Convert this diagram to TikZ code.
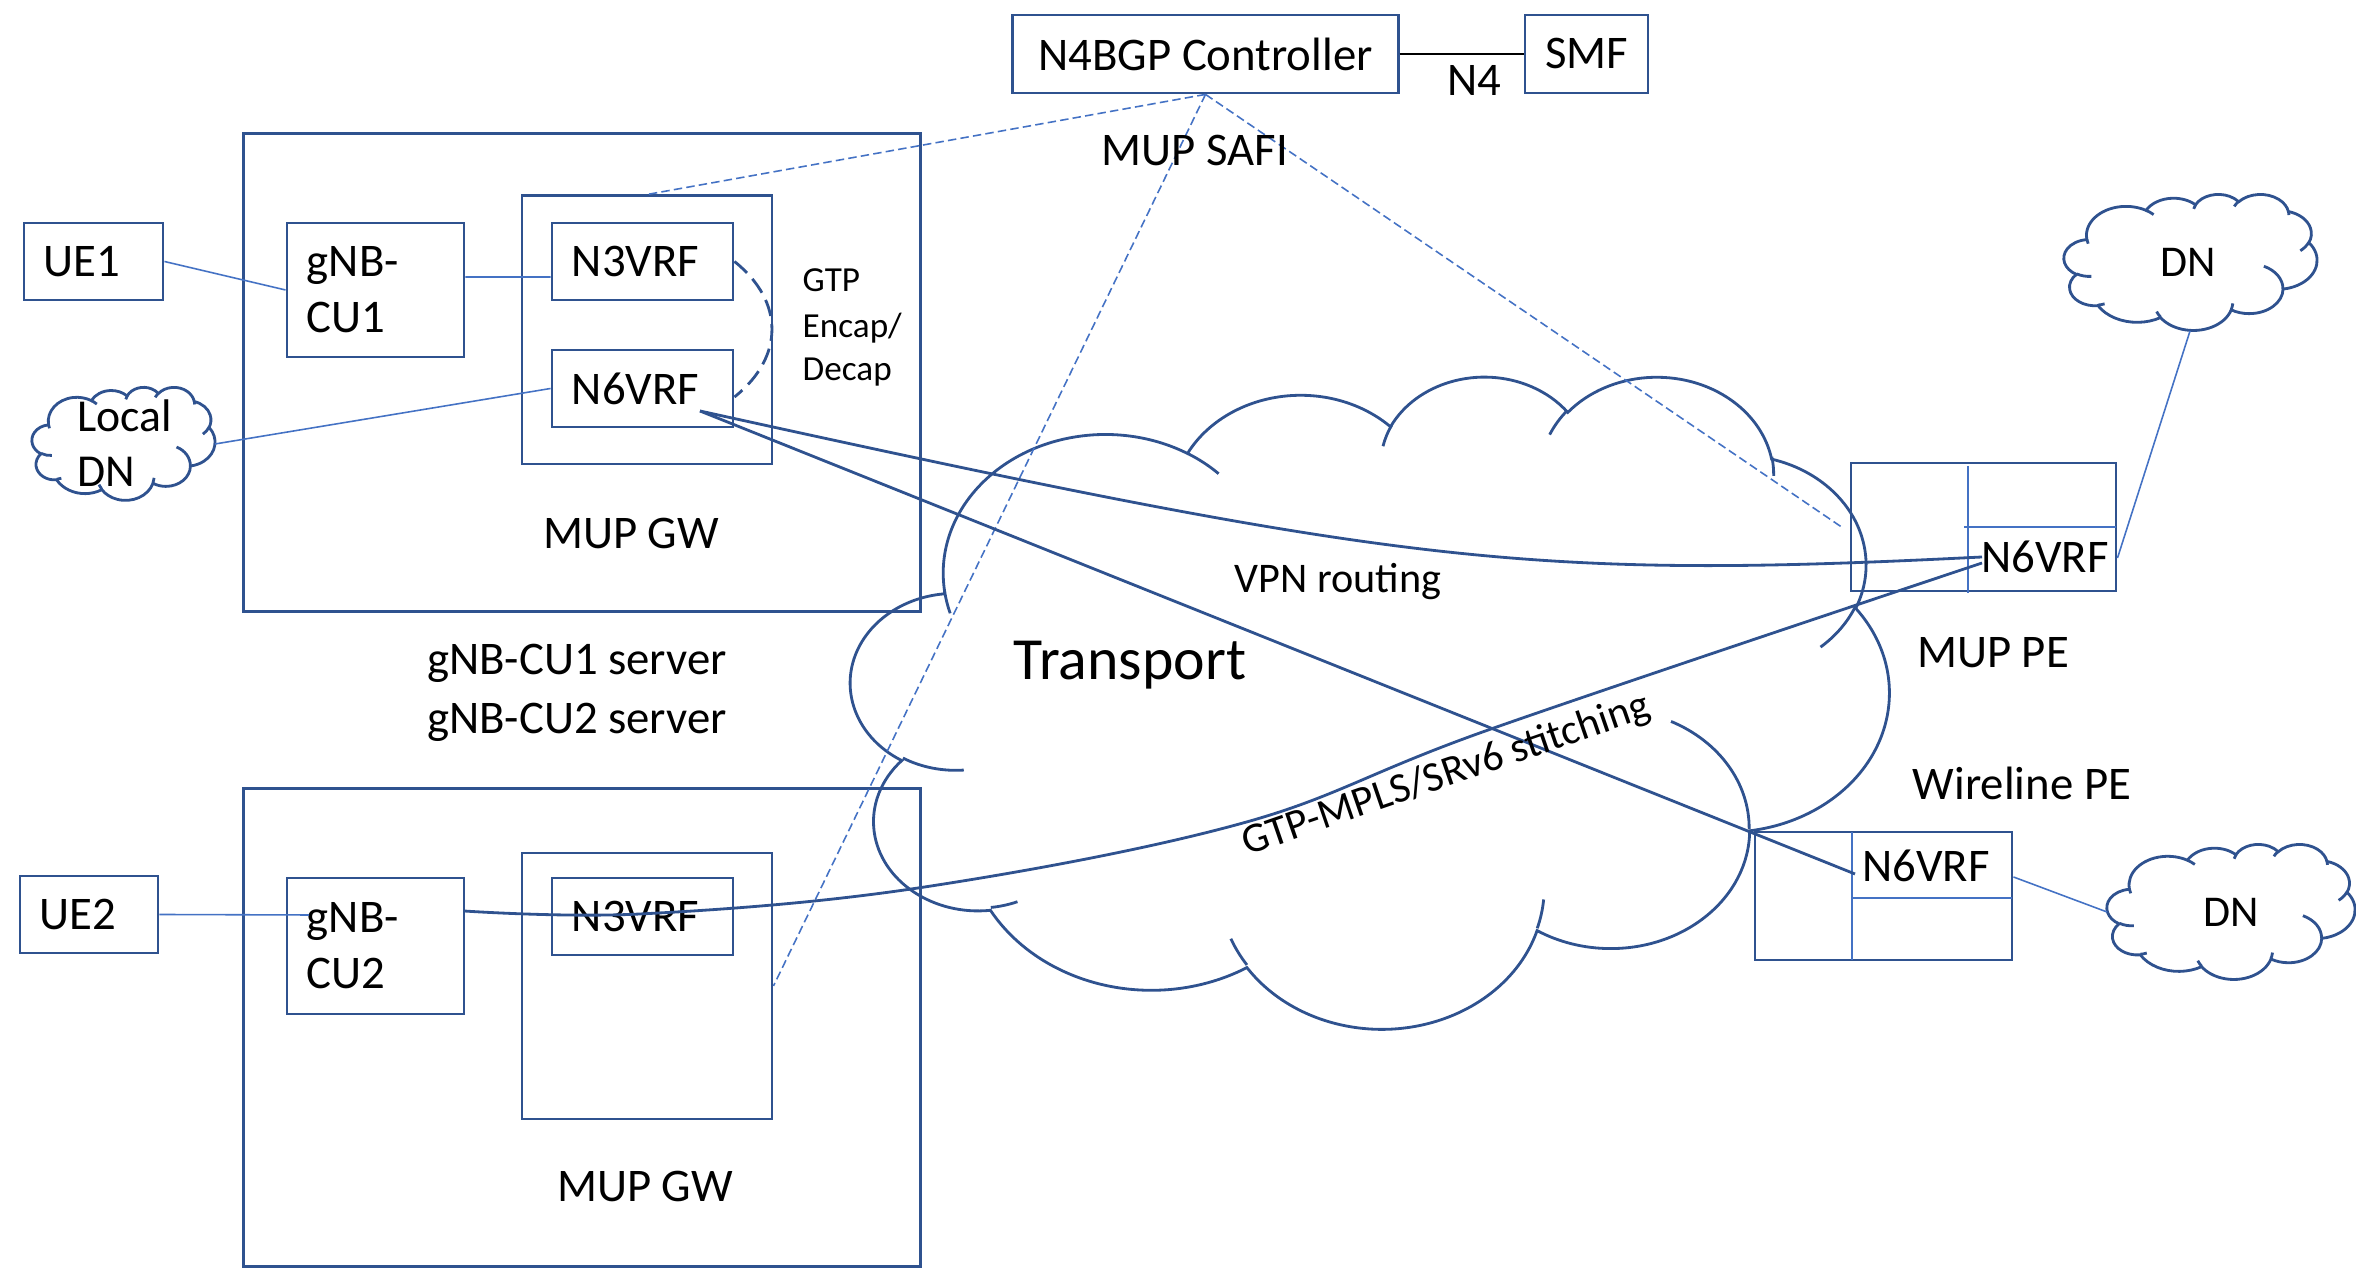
\documentclass[tikz,border=0pt]{standalone}
\usepackage{fontspec}
\setmainfont{Carlito}
\definecolor{dkblue}{HTML}{2F528F}
\definecolor{ltblue}{HTML}{4472C4}
% Office cloud arcs: visual angles -> parametric angles
\newcommand\cldprep[5]{%
  \pgfmathsetmacro\cldtmpA{#4}%
  \pgfmathsetmacro\cldtmpB{#4+#5}%
  \pgfmathsetmacro\cldtmpS{atan2(#2*sin(\cldtmpA),#3*cos(\cldtmpA))}%
  \pgfmathsetmacro\cldtmpE{atan2(#2*sin(\cldtmpB),#3*cos(\cldtmpB))}%
  \pgfmathsetmacro\cldtmpD{mod(\cldtmpE-\cldtmpS+540,360)-180}%
  \pgfmathsetmacro\cldtmpF{\cldtmpS+\cldtmpD}%
  \expandafter\xdef\csname clds#1\endcsname{\cldtmpS}%
  \expandafter\xdef\csname clde#1\endcsname{\cldtmpF}%
}
\cldprep{oa}{6.753}{9.190}{-190.4875}{123.7805}
\cldprep{ob}{5.333}{7.267}{-144.1024}{89.9452}
\cldprep{oc}{4.365}{5.945}{-145.8079}{99.7230}
\cldprep{od}{4.857}{6.595}{-130.9861}{117.2417}
\cldprep{oe}{5.333}{7.273}{-78.7089}{109.0269}
\cldprep{of}{6.775}{9.220}{-46.2673}{130.2690}
\cldprep{og}{5.785}{7.867}{0.6250}{114.0333}
\cldprep{oh}{6.752}{9.215}{22.4516}{115.1726}
\cldprep{oi}{7.720}{10.543}{66.2426}{75.7110}
\cldprep{oj}{4.360}{5.918}{-274.9421}{146.7356}
\cldprep{ok}{4.345}{5.945}{-246.8285}{152.5189}
\cldprep{ha}{4.345}{5.945}{86.7420}{26.4295}
\cldprep{hb}{4.360}{5.918}{73.6105}{11.4475}
\cldprep{hc}{6.752}{9.215}{137.6242}{14.0811}
\cldprep{hd}{6.752}{9.215}{6.4533}{15.9984}
\cldprep{he}{5.785}{7.867}{-70.2924}{70.9174}
\cldprep{hf}{5.333}{7.273}{30.3180}{27.7515}
\cldprep{hg}{4.857}{6.595}{-13.7443}{14.8589}
\cldprep{hh}{4.857}{6.595}{-149.1815}{18.1954}
\cldprep{hi}{4.365}{5.945}{-163.4943}{17.6864}
\cldprep{hj}{6.753}{9.190}{-66.7070}{12.3194}
\cldprep{hk}{6.753}{9.190}{157.6544}{11.8582}
\newcommand\drawcloud[4]{%
 \def\cldX{#1}\def\cldY{#2}\def\cldW{#3}\def\cldH{#4}%
 \draw[cloudline] ({\cldX+3.9/43.2*\cldW},{\cldY+14.37/43.2*\cldH})
  arc[start angle=\cldsoa, end angle=\cldeoa, x radius={6.753/43.2*\cldW}, y radius={9.190/43.2*\cldH}]
  arc[start angle=\cldsob, end angle=\cldeob, x radius={5.333/43.2*\cldW}, y radius={7.267/43.2*\cldH}]
  arc[start angle=\cldsoc, end angle=\cldeoc, x radius={4.365/43.2*\cldW}, y radius={5.945/43.2*\cldH}]
  arc[start angle=\cldsod, end angle=\cldeod, x radius={4.857/43.2*\cldW}, y radius={6.595/43.2*\cldH}]
  arc[start angle=\cldsoe, end angle=\cldeoe, x radius={5.333/43.2*\cldW}, y radius={7.273/43.2*\cldH}]
  arc[start angle=\cldsof, end angle=\cldeof, x radius={6.775/43.2*\cldW}, y radius={9.220/43.2*\cldH}]
  arc[start angle=\cldsog, end angle=\cldeog, x radius={5.785/43.2*\cldW}, y radius={7.867/43.2*\cldH}]
  arc[start angle=\cldsoh, end angle=\cldeoh, x radius={6.752/43.2*\cldW}, y radius={9.215/43.2*\cldH}]
  arc[start angle=\cldsoi, end angle=\cldeoi, x radius={7.720/43.2*\cldW}, y radius={10.543/43.2*\cldH}]
  arc[start angle=\cldsoj, end angle=\cldeoj, x radius={4.360/43.2*\cldW}, y radius={5.918/43.2*\cldH}]
  arc[start angle=\cldsok, end angle=\cldeok, x radius={4.345/43.2*\cldW}, y radius={5.945/43.2*\cldH}]
  -- cycle;
 \draw[cloudline]
  ({\cldX+4.693/43.2*\cldW},{\cldY+26.177/43.2*\cldH})
  arc[start angle=\cldsha, end angle=\cldeha, x radius={4.345/43.2*\cldW}, y radius={5.945/43.2*\cldH}]
  ({\cldX+6.928/43.2*\cldW},{\cldY+34.899/43.2*\cldH})
  arc[start angle=\cldshb, end angle=\cldehb, x radius={4.360/43.2*\cldW}, y radius={5.918/43.2*\cldH}]
  ({\cldX+16.478/43.2*\cldW},{\cldY+39.090/43.2*\cldH})
  arc[start angle=\cldshc, end angle=\cldehc, x radius={6.752/43.2*\cldW}, y radius={9.215/43.2*\cldH}]
  ({\cldX+28.827/43.2*\cldW},{\cldY+34.751/43.2*\cldH})
  arc[start angle=\cldshd, end angle=\cldehd, x radius={6.752/43.2*\cldW}, y radius={9.215/43.2*\cldH}]
  ({\cldX+34.129/43.2*\cldW},{\cldY+22.954/43.2*\cldH})
  arc[start angle=\cldshe, end angle=\cldehe, x radius={5.785/43.2*\cldW}, y radius={7.867/43.2*\cldH}]
  ({\cldX+41.798/43.2*\cldW},{\cldY+15.354/43.2*\cldH})
  arc[start angle=\cldshf, end angle=\cldehf, x radius={5.333/43.2*\cldW}, y radius={7.273/43.2*\cldH}]
  ({\cldX+38.324/43.2*\cldW},{\cldY+5.426/43.2*\cldH})
  arc[start angle=\cldshg, end angle=\cldehg, x radius={4.857/43.2*\cldW}, y radius={6.595/43.2*\cldH}]
  ({\cldX+29.078/43.2*\cldW},{\cldY+3.952/43.2*\cldH})
  arc[start angle=\cldshh, end angle=\cldehh, x radius={4.857/43.2*\cldW}, y radius={6.595/43.2*\cldH}]
  ({\cldX+22.141/43.2*\cldW},{\cldY+4.720/43.2*\cldH})
  arc[start angle=\cldshi, end angle=\cldehi, x radius={4.365/43.2*\cldW}, y radius={5.945/43.2*\cldH}]
  ({\cldX+14.000/43.2*\cldW},{\cldY+5.192/43.2*\cldH})
  arc[start angle=\cldshj, end angle=\cldehj, x radius={6.753/43.2*\cldW}, y radius={9.190/43.2*\cldH}]
  ({\cldX+4.127/43.2*\cldW},{\cldY+15.789/43.2*\cldH})
  arc[start angle=\cldshk, end angle=\cldehk, x radius={6.753/43.2*\cldW}, y radius={9.190/43.2*\cldH}];
}
\begin{document}
\begin{tikzpicture}[x=0.01cm, y=-0.01cm,
  cloudline/.style={draw=dkblue, line width=0.8pt},
  plainbox/.style={draw=dkblue, line width=0.8pt, rectangle, inner sep=0pt},
  cbox/.style={plainbox, align=center, font=\fontsize{13.3}{16}\selectfont},
  lbox/.style={plainbox, align=left, inner xsep=0.2cm, inner ysep=0pt, font=\fontsize{13.3}{16}\selectfont},
  lbl/.style={inner sep=0pt, font=\fontsize{13.3}{16}\selectfont},
  dnlbl/.style={inner sep=0pt, font=\fontsize{12.5}{15}\selectfont},
  midlbl/.style={inner sep=0pt, font=\fontsize{12}{14}\selectfont},
  smllbl/.style={inner sep=0pt, font=\fontsize{10}{12}\selectfont},
  biglbl/.style={inner sep=0pt, font=\fontsize{17}{20}\selectfont},
  thinconn/.style={draw=ltblue, line width=0.45pt},
  thickconn/.style={draw=dkblue, line width=0.8pt},
  ctrldash/.style={draw=ltblue, line width=0.45pt, dash pattern=on 2.4pt off 1.2pt},
  encapdash/.style={draw=dkblue, line width=0.8pt, dash pattern=on 4.8pt off 2.3pt},
  divider/.style={draw=ltblue, line width=0.45pt}]
\useasboundingbox (0,0) rectangle (2356,1268);

% clouds
\drawcloud{851}{375}{1038}{652}
\drawcloud{32}{387}{183}{113}
\drawcloud{2064}{194}{253}{136}
\drawcloud{2107}{844}{248}{135}

% boxes
\node[cbox, minimum width=3.85cm, minimum height=0.78cm] (ctrl) at (1205.5,54) {N4BGP Controller};
\node[cbox, minimum width=1.23cm, minimum height=0.78cm] (smf) at (1586.5,54) {SMF};
\node[plainbox, minimum width=6.76cm, minimum height=4.77cm] (gw1) at (582,372.5) {};
\node[plainbox, minimum width=2.50cm, minimum height=2.68cm] (in1) at (647,330) {};
\node[lbox, text width=0.99cm, minimum height=0.77cm] (ue1) at (93.5,261.5) {UE1};
\node[lbox, text width=1.37cm, minimum height=1.34cm] (cu1) at (375.5,290) {gNB-\\CU1};
\node[lbox, text width=1.41cm, minimum height=0.77cm] (n31) at (642.5,261.5) {N3VRF};
\node[lbox, text width=1.41cm, minimum height=0.77cm] (n61) at (642.5,388.5) {N6VRF};
\node[plainbox, minimum width=6.76cm, minimum height=4.77cm] (gw2) at (582,1027.5) {};
\node[plainbox, minimum width=2.50cm, minimum height=2.66cm] (in2) at (647,986) {};
\node[lbox, text width=0.98cm, minimum height=0.77cm] (ue2) at (89,914.5) {UE2};
\node[lbox, text width=1.37cm, minimum height=1.36cm] (cu2) at (375.5,946) {gNB-\\CU2};
\node[lbox, text width=1.41cm, minimum height=0.77cm] (n32) at (642.5,916.5) {N3VRF};
\node[plainbox, minimum width=2.65cm, minimum height=1.28cm] (mpe) at (1983.5,527) {};
\node[plainbox, minimum width=2.57cm, minimum height=1.28cm] (wpe) at (1883.5,896) {};

% PE cell dividers
\draw[divider] (1968,466) -- (1968,593);
\draw[divider] (1964,527) -- (2116,527);
\draw[divider] (1852,832) -- (1852,960);
\draw[divider] (1852,898) -- (2012,898);

% named connector ends
\coordinate (ldnE) at (215,444);
\coordinate (n6s) at (700,411);
\coordinate (mpeIn) at (1982,557);
\coordinate (mpeIn2) at (1982,563);
\coordinate (wpeIn) at (1855,874);
\coordinate (mpeDash) at (1843,528);
\coordinate (dn1B) at (2190,331);
\coordinate (dn2W) at (2107,912);
\coordinate (cu2s) at (464,911);
\coordinate (cu2in) at (309,915);

% thin connectors
\draw[thinconn] (ue1.east) -- (cu1.west);
\draw[thinconn] ([yshift=0.13cm]cu1.east) -- ([yshift=-0.155cm]n31.west);
\draw[thinconn] (ldnE) -- (n61.west);
\draw[thinconn] (ue2.east) -- (cu2in);
\draw[thinconn] ([yshift=-0.31cm]mpe.east) -- (dn1B);
\draw[thinconn] ([yshift=0.19cm]wpe.east) -- (dn2W);
\draw[black, line width=0.5pt] (ctrl.east) -- (smf.west);

% dashed control lines
\draw[ctrldash] (ctrl.south) -- (in1.north);
\draw[ctrldash] (ctrl.south) -- (mpeDash);
\draw[ctrldash] (ctrl.south) -- (in2.east);
\draw[encapdash] (n31.east) .. controls +(50,40) and +(50,-40) .. ([yshift=-0.085cm]n61.east);

% transport connectors
\draw[thickconn] (n6s) .. controls (1400,565) and (1528,580) .. (mpeIn);
\draw[thickconn] (n6s) -- (wpeIn);
\draw[thickconn] plot[smooth, tension=0.6] coordinates {(cu2s) (640,914) (918,888) (1243,823) (1491,729) (mpeIn2)};

% labels
\node[lbl, anchor=base] (n4) at (1474,96) {N4};
\node[lbl, anchor=base] (safi) at (1195,166) {MUP SAFI};
\node[smllbl, anchor=base west] (gtp1) at (802,292) {GTP};
\node[smllbl, anchor=base west] (gtp2) at (802,338) {Encap/};
\node[smllbl, anchor=base west] (gtp3) at (802,381) {Decap};
\node[lbl, anchor=base] (gwl1) at (631,549) {MUP GW};
\node[lbl, anchor=base] (gwl2) at (645,1202) {MUP GW};
\node[lbl, anchor=base] (srv1) at (577,675) {gNB-CU1 server};
\node[lbl, anchor=base] (srv2) at (577,734) {gNB-CU2 server};
\node[biglbl, anchor=base] (tr) at (1130,680) {Transport};
\node[midlbl, anchor=base] (vpn) at (1338,593) {VPN routing};
\node[midlbl, anchor=base, rotate=19] (stitch) at (1450,786) {GTP-MPLS/SRv6 stitching};
\node[lbl, anchor=base] (mpel) at (1993,668) {MUP PE};
\node[lbl, anchor=base] (wpel) at (2022,800) {Wireline PE};
\node[lbl, anchor=base] (mpen6) at (2045,573) {N6VRF};
\node[lbl, anchor=base] (wpen6) at (1926,882) {N6VRF};
\node[dnlbl, anchor=base] (dn1) at (2188,277) {DN};
\node[dnlbl, anchor=base] (dn2) at (2231,927) {DN};
\node[lbl, font=\fontsize{13}{15}\selectfont, anchor=base west] (ldn1) at (77,432) {Local};
\node[lbl, font=\fontsize{13}{15}\selectfont, anchor=base west] (ldn2) at (77,487) {DN};
\end{tikzpicture}
\end{document}
